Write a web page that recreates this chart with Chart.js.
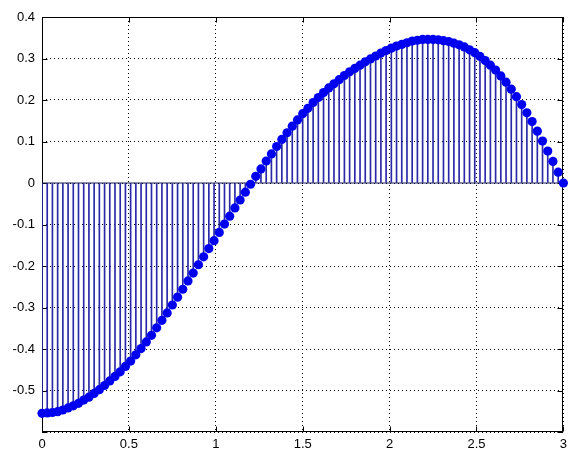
<!DOCTYPE html>
<html><head><meta charset="utf-8">
<script src="https://cdn.jsdelivr.net/npm/chart.js@4/dist/chart.umd.min.js"></script>
<style>html,body{margin:0;padding:0;background:#fff;}canvas{display:block;}</style>
</head><body>
<canvas id="c" width="572" height="450"></canvas>
<script>
const xValues = [
  0.00,0.03,0.06,0.09,0.12,0.15,0.18,0.21,0.24,0.27,
  0.30,0.33,0.36,0.39,0.42,0.45,0.48,0.51,0.54,0.57,
  0.60,0.63,0.66,0.69,0.72,0.75,0.78,0.81,0.84,0.87,
  0.90,0.93,0.96,0.99,1.02,1.05,1.08,1.11,1.14,1.17,
  1.20,1.23,1.26,1.29,1.32,1.35,1.38,1.41,1.44,1.47,
  1.50,1.53,1.56,1.59,1.62,1.65,1.68,1.71,1.74,1.77,
  1.80,1.83,1.86,1.89,1.92,1.95,1.98,2.01,2.04,2.07,
  2.10,2.13,2.16,2.19,2.22,2.25,2.28,2.31,2.34,2.37,
  2.40,2.43,2.46,2.49,2.52,2.55,2.58,2.61,2.64,2.67,
  2.70,2.73,2.76,2.79,2.82,2.85,2.88,2.91,2.94,2.97,
  3.00
];
const yValues = [
  -0.555,-0.554,-0.553,-0.551,-0.547,-0.542,-0.537,-0.531,-0.523,-0.516,
  -0.507,-0.498,-0.488,-0.477,-0.466,-0.455,-0.442,-0.429,-0.414,-0.399,
  -0.383,-0.367,-0.349,-0.331,-0.313,-0.294,-0.275,-0.256,-0.236,-0.217,
  -0.197,-0.178,-0.158,-0.139,-0.119,-0.099,-0.080,-0.060,-0.041,-0.022,
  -0.003,0.016,0.034,0.053,0.070,0.088,0.105,0.121,0.137,0.152,
  0.167,0.180,0.194,0.206,0.218,0.229,0.239,0.249,0.259,0.268,
  0.276,0.284,0.292,0.299,0.306,0.313,0.319,0.325,0.330,0.334,
  0.338,0.342,0.344,0.346,0.346,0.346,0.345,0.343,0.341,0.337,
  0.333,0.328,0.321,0.314,0.305,0.295,0.284,0.272,0.258,0.243,
  0.226,0.208,0.189,0.169,0.148,0.125,0.101,0.077,0.052,0.026,
  0.000
];
const xTicks = [0,0.5,1,1.5,2,2.5,3];
const xTickLabels = ['0','0.5','1','1.5','2','2.5','3'];
const yTicks = [-0.6,-0.5,-0.4,-0.3,-0.2,-0.1,0,0.1,0.2,0.3,0.4];
const yTickLabels = ['','-0.5','-0.4','-0.3','-0.2','-0.1','0','0.1','0.2','0.3','0.4'];
const baselineX = [0,3];
const baselineY = [0,0];

const stemPoints = xValues.map((x,i)=>({x:x,y:yValues[i]}));
const basePoints = baselineX.map((x,i)=>({x:x,y:baselineY[i]}));

const boxPlugin = {
  id:'box',
  beforeDatasetsDraw(chart){
    const ctx = chart.ctx, a = chart.chartArea;
    const xs = chart.scales.x, ys = chart.scales.y;
    const L = Math.round(a.left)+0.5, R = Math.round(a.right)-0.5;
    const T = Math.round(a.top)+0.5, B = Math.round(a.bottom)-0.5;
    ctx.save();
    ctx.strokeStyle = '#000';
    ctx.lineWidth = 1;
    ctx.setLineDash([]);
    ctx.strokeRect(L, T, R-L, B-T);
    const tl = 5;
    ctx.beginPath();
    xTicks.forEach(v=>{
      const px = Math.round(xs.getPixelForValue(v))+0.5;
      ctx.moveTo(px,B); ctx.lineTo(px,B-tl);
      ctx.moveTo(px,T); ctx.lineTo(px,T+tl);
    });
    yTicks.forEach(v=>{
      const py = Math.round(ys.getPixelForValue(v))+0.5;
      ctx.moveTo(L,py); ctx.lineTo(L+tl,py);
      ctx.moveTo(R,py); ctx.lineTo(R-tl,py);
    });
    ctx.stroke();
    ctx.restore();
  }
};

Chart.defaults.font.family = '"Liberation Sans", Arial, sans-serif';
Chart.defaults.font.size = 13;
Chart.defaults.color = '#000';

new Chart(document.getElementById('c'), {
  type:'bar',
  data:{
    datasets:[
      {type:'scatter', data:stemPoints, showLine:false, pointRadius:4.6, pointHoverRadius:4.6,
       backgroundColor:'#0000f0', borderColor:'#0000f0', borderWidth:0, clip:false, order:0},
      {type:'line', data:basePoints, borderColor:'#1c1c5a', borderWidth:1, pointRadius:0, order:1},
      {type:'bar', data:stemPoints, backgroundColor:'#2828a8', borderWidth:0, barThickness:1, order:2}
    ]
  },
  options:{
    responsive:false, animation:false,
    events:[],
    plugins:{legend:{display:false}, tooltip:{enabled:false}},
    layout:{padding:{top:17,right:3,left:0,bottom:0}},
    scales:{
      x:{type:'linear', min:0, max:3, offset:false,
         grid:{offset:false, color:'#000', lineWidth:1, drawTicks:false},
         border:{display:false, dash:[1,3]},
         afterBuildTicks(s){ s.ticks = xTicks.map(v=>({value:v})); },
         afterFit(s){ s.height = 18; },
         ticks:{padding:5, maxRotation:0, autoSkip:false, callback:(v,i)=>xTickLabels[i]}},
      y:{type:'linear', min:-0.6, max:0.4,
         grid:{color:'#000', lineWidth:1, drawTicks:false},
         border:{display:false, dash:[1,3]},
         afterBuildTicks(s){ s.ticks = yTicks.map(v=>({value:v})); },
         afterFit(s){ s.width = 42; },
         ticks:{padding:7, autoSkip:false, callback:(v,i)=>yTickLabels[i]}}
    }
  },
  plugins:[boxPlugin]
});
</script>
</body></html>
